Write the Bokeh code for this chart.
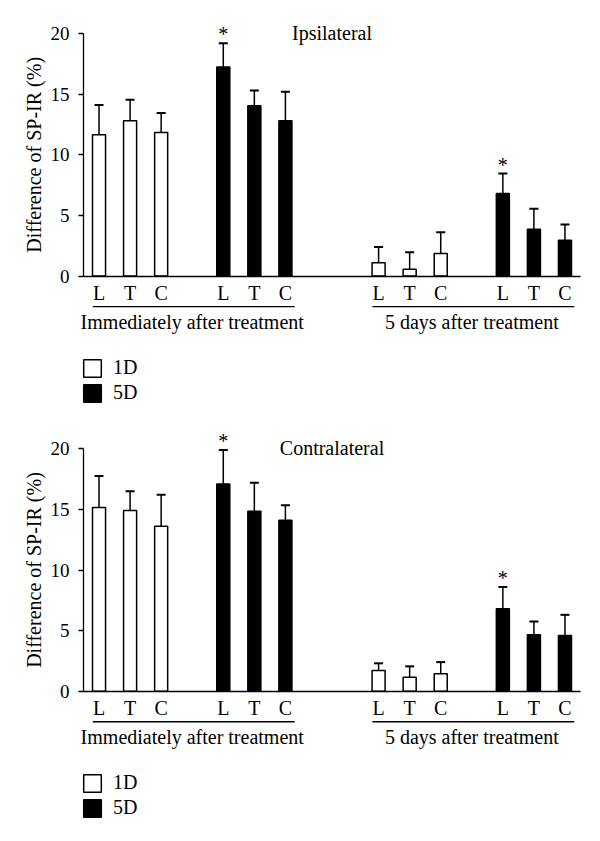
from math import pi
from bokeh.plotting import figure
from bokeh.models import (ColumnDataSource, Range1d, LinearAxis, FixedTicker, Whisker,
                          TeeHead, Legend, LegendItem)
from bokeh.layouts import column
from bokeh.embed import file_html
from bokeh.resources import INLINE
from bokeh.core.properties import value

# ---------------- data ----------------
conditions = ["L", "T", "C"]
groups = ["Immediately after treatment", "5 days after treatment"]
series_names = ["1D", "5D"]
panel_titles = ["Ipsilateral", "Contralateral"]
y_label = "Difference of SP-IR (%)"
y_ticks = [0, 5, 10, 15, 20]

# Ipsilateral: means and SD (per condition L, T, C)
ipsi_1d_immediate = [11.65, 12.8, 11.85]
ipsi_1d_immediate_sd = [2.45, 1.75, 1.6]
ipsi_5d_immediate = [17.25, 14.05, 12.8]
ipsi_5d_immediate_sd = [1.95, 1.25, 2.4]
ipsi_1d_5days = [1.1, 0.55, 1.85]
ipsi_1d_5days_sd = [1.3, 1.4, 1.75]
ipsi_5d_5days = [6.8, 3.85, 2.95]
ipsi_5d_5days_sd = [1.65, 1.7, 1.3]

# Contralateral
contra_1d_immediate = [15.15, 14.9, 13.6]
contra_1d_immediate_sd = [2.6, 1.6, 2.6]
contra_5d_immediate = [17.1, 14.85, 14.1]
contra_5d_immediate_sd = [2.8, 2.35, 1.25]
contra_1d_5days = [1.7, 1.15, 1.45]
contra_1d_5days_sd = [0.6, 0.9, 0.95]
contra_5d_5days = [6.8, 4.65, 4.6]
contra_5d_5days_sd = [1.8, 1.1, 1.7]

# significance markers: (group index, series, condition)
significant = [(0, "5D", "L"), (1, "5D", "L")]

FONT = "Liberation Serif"
FS = "20px"
TICK_FS = "19px"

W = 592
AXIS_LEFT_PX = 83          # pixel position of the y axis
SX = 497 / 16.0            # pixels per x unit
SY = 12.12                 # pixels per y unit


def bar_x(g, s, c):
    return g * 9 + s * 4 + c


def make_panel(title, means, sds, height, y0_px):
    x_lo = -0.5 - AXIS_LEFT_PX / SX
    x_hi = x_lo + W / SX
    y_hi = y0_px / SY
    y_lo = y_hi - height / SY
    p = figure(width=W, height=height, x_range=Range1d(x_lo, x_hi), y_range=Range1d(y_lo, y_hi),
               output_backend="svg", toolbar_location=None,
               x_axis_location=None, y_axis_location=None,
               min_border=0, outline_line_color=None,
               background_fill_color="white", border_fill_color="white")
    p.xgrid.visible = False
    p.ygrid.visible = False

    yaxis = LinearAxis(fixed_location=-0.5, bounds=(0, 20), ticker=FixedTicker(ticks=y_ticks),
                       major_tick_out=5, major_tick_in=0, minor_tick_out=0, minor_tick_in=0,
                       major_label_text_font=FONT, major_label_text_font_size=TICK_FS,
                       major_label_text_color="black", major_label_standoff=9,
                       axis_line_width=1.3, axis_line_color="black",
                       major_tick_line_width=1.3, major_tick_line_color="black")
    p.add_layout(yaxis, "left")

    # x axis at y = 0 with L/T/C labels
    tick_pos, overrides = [], {}
    for g in range(len(groups)):
        for si in range(len(series_names)):
            for c, cname in enumerate(conditions):
                t = bar_x(g, si, c)
                tick_pos.append(t)
                overrides[t] = cname
                overrides[str(t)] = cname
    xaxis = LinearAxis(fixed_location=0, bounds=(-0.5, 15.5), ticker=FixedTicker(ticks=tick_pos),
                       major_label_overrides=overrides, major_tick_out=0, major_tick_in=0,
                       minor_tick_out=0, minor_tick_in=0, major_label_standoff=6,
                       major_label_text_font=FONT, major_label_text_font_size=FS,
                       major_label_text_color="black",
                       axis_line_width=1.3, axis_line_color="black")
    p.add_layout(xaxis, "below")

    # y axis title
    p.text(x=[-0.5 - (AXIS_LEFT_PX - 33) / SX], y=[10], text=[y_label], angle=pi / 2,
           text_font=value(FONT), text_font_size=value(FS), text_align="center",
           text_baseline="middle", text_color="black")

    renderers = {}
    for si, sname in enumerate(series_names):
        xs, tops, uppers = [], [], []
        for g in range(len(groups)):
            for c in range(len(conditions)):
                xs.append(bar_x(g, si, c))
                m = means[(g, sname)][c]
                tops.append(m)
                uppers.append(m + sds[(g, sname)][c])
        src = ColumnDataSource(dict(x=xs, top=tops, upper=uppers))
        r = p.vbar(x="x", top="top", bottom=0, width=0.42, source=src,
                   fill_color="white" if sname == "1D" else "black",
                   line_color="black", line_width=1.5)
        renderers[sname] = r
        p.add_layout(Whisker(source=src, base="x", lower="top", upper="upper", dimension="height",
                             line_color="black", line_width=1.5,
                             upper_head=TeeHead(size=9, line_width=2, line_color="black"),
                             lower_head=None))

    # group underline and label
    gx0, gx1, gc = [], [], []
    for g in range(len(groups)):
        first = bar_x(g, 0, 0)
        last = bar_x(g, 1, 2)
        gx0.append(first - 0.2)
        gx1.append(last + 0.3)
        gc.append((first + last) / 2)
    p.segment(x0=gx0, x1=gx1, y0=-2.52, y1=-2.52, line_color="black", line_width=1.3)
    p.text(x=gc, y=[-3.8] * len(gc), text=groups, text_font=value(FONT), text_font_size=value(FS),
           text_align="center", text_baseline="middle", text_color="black")

    # significance asterisks
    ax, ay = [], []
    for g, sname, cname in significant:
        c = conditions.index(cname)
        si = series_names.index(sname)
        ax.append(bar_x(g, si, c))
        ay.append(means[(g, sname)][c] + sds[(g, sname)][c])
    p.text(x=ax, y=ay, text=["*"] * len(ax), text_font=value(FONT), text_font_size=value(FS),
           text_align="center", text_baseline="alphabetic", y_offset=-9, text_color="black")

    # panel title
    p.text(x=[7.5], y=[20.05], text=[title], text_font=value(FONT), text_font_size=value(FS),
           text_align="center", text_baseline="middle", text_color="black")

    # legend: 5D swatch centre about 116 px below the zero line
    loc_y = int(round(height - (y0_px + 116.2) - 12))
    legend = Legend(items=[LegendItem(label=s, renderers=[renderers[s]]) for s in series_names],
                    location=(AXIS_LEFT_PX - 2, loc_y), orientation="vertical",
                    glyph_width=22, glyph_height=22, label_height=22,
                    label_text_font=FONT, label_text_font_size=FS, label_text_color="black",
                    label_standoff=10, spacing=2, padding=0, margin=0,
                    border_line_color=None, background_fill_alpha=0)
    p.add_layout(legend)
    return p


ipsi_means = {(0, "1D"): ipsi_1d_immediate, (0, "5D"): ipsi_5d_immediate,
              (1, "1D"): ipsi_1d_5days, (1, "5D"): ipsi_5d_5days}
ipsi_sds = {(0, "1D"): ipsi_1d_immediate_sd, (0, "5D"): ipsi_5d_immediate_sd,
            (1, "1D"): ipsi_1d_5days_sd, (1, "5D"): ipsi_5d_5days_sd}
contra_means = {(0, "1D"): contra_1d_immediate, (0, "5D"): contra_5d_immediate,
                (1, "1D"): contra_1d_5days, (1, "5D"): contra_5d_5days}
contra_sds = {(0, "1D"): contra_1d_immediate_sd, (0, "5D"): contra_5d_immediate_sd,
              (1, "1D"): contra_1d_5days_sd, (1, "5D"): contra_5d_5days_sd}

p1 = make_panel(panel_titles[0], ipsi_means, ipsi_sds, 410, 275.5)
p2 = make_panel(panel_titles[1], contra_means, contra_sds, 410, 280.7)

layout = column(p1, p2, spacing=0)
open("out.html", "w").write(file_html(layout, INLINE))
